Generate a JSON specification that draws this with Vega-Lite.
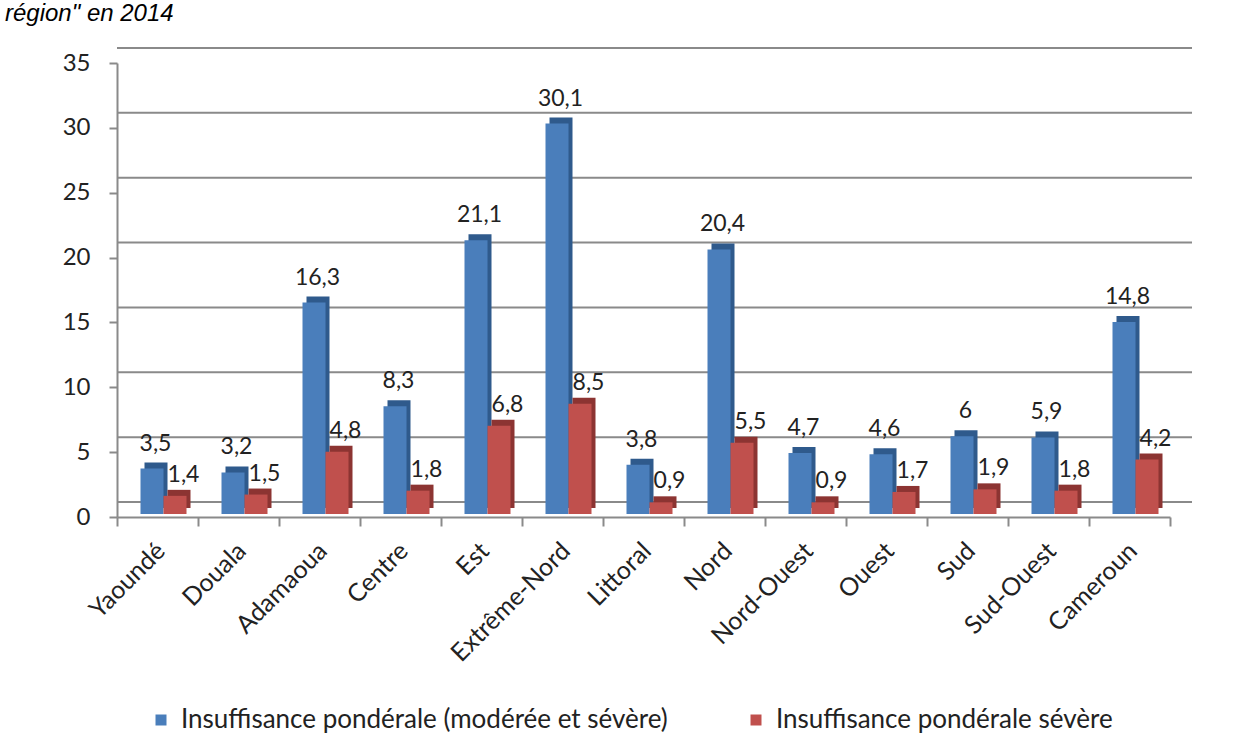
{
  "$schema": "https://vega.github.io/schema/vega-lite/v6.json",
  "width": 1053,
  "height": 454,
  "autosize": {"type": "none"},
  "padding": {"left": 117, "top": 63, "right": 64, "bottom": 232},
  "background": "white",
  "config": {
    "locale": {"number": {"decimal": ",", "thousands": " ", "grouping": [3], "currency": ["", " €"]}},
    "view": {"stroke": null},
    "font": "Lato"
  },
  "title": {
    "text": "région\" en 2014",
    "anchor": "start",
    "frame": "group",
    "dx": -112,
    "dy": 8,
    "offset": 10,
    "baseline": "alphabetic",
    "fontSize": 24,
    "fontStyle": "italic",
    "fontWeight": "normal",
    "font": "Liberation Sans",
    "color": "#000000"
  },
  "datasets": {
    "bars": [
      {"region": "Yaoundé", "serie": "Insuffisance pondérale (modérée et sévère)", "value": 3.5},
      {"region": "Yaoundé", "serie": "Insuffisance pondérale sévère", "value": 1.4},
      {"region": "Douala", "serie": "Insuffisance pondérale (modérée et sévère)", "value": 3.2},
      {"region": "Douala", "serie": "Insuffisance pondérale sévère", "value": 1.5},
      {"region": "Adamaoua", "serie": "Insuffisance pondérale (modérée et sévère)", "value": 16.3},
      {"region": "Adamaoua", "serie": "Insuffisance pondérale sévère", "value": 4.8},
      {"region": "Centre", "serie": "Insuffisance pondérale (modérée et sévère)", "value": 8.3},
      {"region": "Centre", "serie": "Insuffisance pondérale sévère", "value": 1.8},
      {"region": "Est", "serie": "Insuffisance pondérale (modérée et sévère)", "value": 21.1},
      {"region": "Est", "serie": "Insuffisance pondérale sévère", "value": 6.8},
      {"region": "Extrême-Nord", "serie": "Insuffisance pondérale (modérée et sévère)", "value": 30.1},
      {"region": "Extrême-Nord", "serie": "Insuffisance pondérale sévère", "value": 8.5},
      {"region": "Littoral", "serie": "Insuffisance pondérale (modérée et sévère)", "value": 3.8},
      {"region": "Littoral", "serie": "Insuffisance pondérale sévère", "value": 0.9},
      {"region": "Nord", "serie": "Insuffisance pondérale (modérée et sévère)", "value": 20.4},
      {"region": "Nord", "serie": "Insuffisance pondérale sévère", "value": 5.5},
      {"region": "Nord-Ouest", "serie": "Insuffisance pondérale (modérée et sévère)", "value": 4.7},
      {"region": "Nord-Ouest", "serie": "Insuffisance pondérale sévère", "value": 0.9},
      {"region": "Ouest", "serie": "Insuffisance pondérale (modérée et sévère)", "value": 4.6},
      {"region": "Ouest", "serie": "Insuffisance pondérale sévère", "value": 1.7},
      {"region": "Sud", "serie": "Insuffisance pondérale (modérée et sévère)", "value": 6},
      {"region": "Sud", "serie": "Insuffisance pondérale sévère", "value": 1.9},
      {"region": "Sud-Ouest", "serie": "Insuffisance pondérale (modérée et sévère)", "value": 5.9},
      {"region": "Sud-Ouest", "serie": "Insuffisance pondérale sévère", "value": 1.8},
      {"region": "Cameroun", "serie": "Insuffisance pondérale (modérée et sévère)", "value": 14.8},
      {"region": "Cameroun", "serie": "Insuffisance pondérale sévère", "value": 4.2}
    ],
    "grid": [{"v": 0}, {"v": 5}, {"v": 10}, {"v": 15}, {"v": 20}, {"v": 25}, {"v": 30}, {"v": 35}]
  },
  "layer": [
    {
      "data": {"name": "grid"},
      "mark": {"type": "rule", "xOffset": 22, "x2Offset": 22, "yOffset": -15, "color": "#8a8a8a", "strokeWidth": 2},
      "encoding": {
        "y": {
          "field": "v", "type": "quantitative", "scale": {"domain": [0, 35], "nice": false},
          "axis": {"values": [0, 5, 10, 15, 20, 25, 30, 35], "grid": false, "domainColor": "#8a8a8a", "domainWidth": 2, "tickColor": "#8a8a8a", "tickWidth": 2, "tickSize": 8, "labelPadding": 19, "labelFontSize": 24, "labelColor": "#222222", "title": null}
        }
      }
    },
    {
      "data": {"name": "bars"},
      "transform": [{"filter": "datum.serie === 'Insuffisance pondérale (modérée et sévère)'"}],
      "mark": {"type": "bar", "width": {"band": 0.284}, "xOffset": -1.5, "yOffset": -9, "y2Offset": -9, "color": "#2f5a8c"},
      "encoding": {
        "x": {
          "field": "region", "type": "nominal", "sort": null,
          "scale": {"paddingInner": 0, "paddingOuter": 0},
          "axis": {"bandPosition": 1, "tickExtra": true, "labelOffset": -5, "labelAngle": -45, "labelFontSize": 25, "labelColor": "#222222", "labelPadding": 12, "ticks": true, "tickColor": "#8a8a8a", "tickWidth": 2, "tickSize": 9, "domainColor": "#8a8a8a", "domainWidth": 2, "title": null, "grid": false}
        },
        "y": {"field": "value", "type": "quantitative"}
      }
    },
    {
      "data": {"name": "bars"},
      "transform": [{"filter": "datum.serie === 'Insuffisance pondérale sévère'"}],
      "mark": {"type": "bar", "width": {"band": 0.284}, "xOffset": 21.5, "yOffset": -9, "y2Offset": -9, "color": "#8c3432"},
      "encoding": {
        "x": {"field": "region", "type": "nominal", "sort": null},
        "y": {"field": "value", "type": "quantitative"}
      }
    },
    {
      "data": {"name": "bars"},
      "transform": [{"filter": "datum.serie === 'Insuffisance pondérale (modérée et sévère)'"}],
      "mark": {"type": "bar", "width": {"band": 0.284}, "xOffset": -5.5, "yOffset": -3, "y2Offset": -3},
      "encoding": {
        "x": {"field": "region", "type": "nominal", "sort": null},
        "y": {"field": "value", "type": "quantitative"},
        "color": {
          "field": "serie", "type": "nominal",
          "scale": {"domain": ["Insuffisance pondérale (modérée et sévère)", "Insuffisance pondérale sévère"], "range": ["#4a7ebb", "#c0504d"]},
          "legend": {
            "title": null, "orient": "none", "direction": "horizontal", "legendX": 31, "legendY": 644,
            "symbolType": "square", "symbolSize": 121, "symbolStrokeWidth": 0, "labelFontSize": 26, "labelColor": "#222222",
            "labelOffset": 7, "columnPadding": 75, "labelLimit": 800
          }
        }
      }
    },
    {
      "data": {"name": "bars"},
      "transform": [{"filter": "datum.serie === 'Insuffisance pondérale sévère'"}],
      "mark": {"type": "bar", "width": {"band": 0.284}, "xOffset": 17.5, "yOffset": -3, "y2Offset": -3},
      "encoding": {
        "x": {"field": "region", "type": "nominal", "sort": null},
        "y": {"field": "value", "type": "quantitative"},
        "color": {"field": "serie", "type": "nominal"}
      }
    },
    {
      "data": {"name": "bars"},
      "transform": [{"filter": "datum.serie === 'Insuffisance pondérale (modérée et sévère)'"}],
      "mark": {"type": "text", "baseline": "alphabetic", "dy": -21, "dx": -2, "fontSize": 23, "color": "#222222"},
      "encoding": {
        "x": {"field": "region", "type": "nominal", "sort": null},
        "y": {"field": "value", "type": "quantitative"},
        "text": {"field": "value", "type": "quantitative", "format": ".1~f"}
      }
    },
    {
      "data": {"name": "bars"},
      "transform": [{"filter": "datum.serie === 'Insuffisance pondérale sévère'"}],
      "mark": {"type": "text", "baseline": "alphabetic", "dy": -17, "dx": 26, "fontSize": 23, "color": "#222222"},
      "encoding": {
        "x": {"field": "region", "type": "nominal", "sort": null},
        "y": {"field": "value", "type": "quantitative"},
        "text": {"field": "value", "type": "quantitative", "format": ".1~f"}
      }
    }
  ]
}
